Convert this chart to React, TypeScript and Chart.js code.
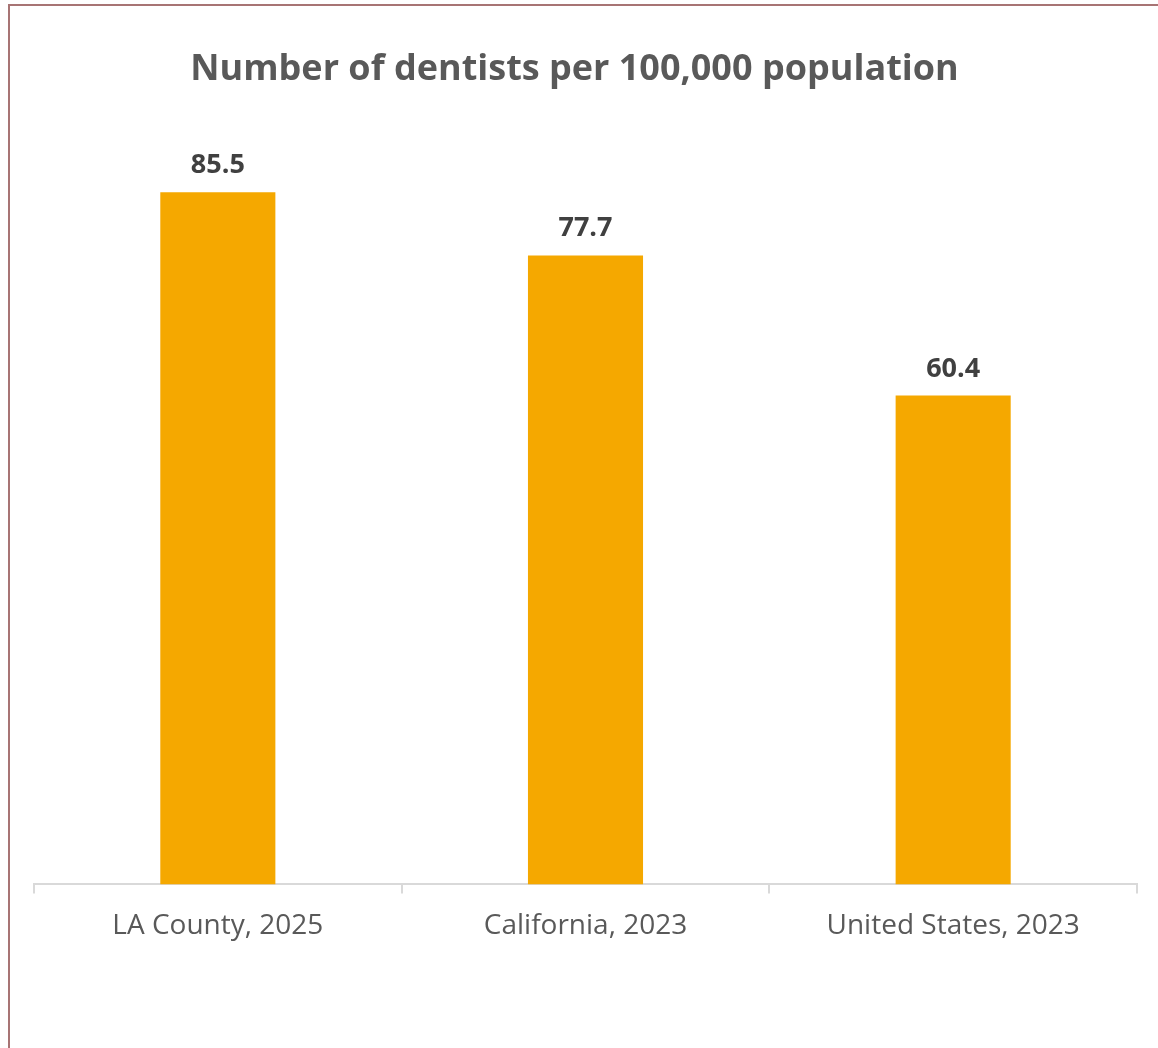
import React, { useEffect, useRef } from "react";
import { Chart, registerables } from "chart.js";

Chart.register(...registerables);

const categories = ["LA County, 2025", "California, 2023", "United States, 2023"];
const dentistsPer100k = [85.5, 77.7, 60.4];
const titleText = "Number of dentists per 100,000 population";

const FONT = "'Open Sans'";

const overlayPlugin = {
  id: "overlayText",
  afterDatasetsDraw(chart: any) {
    const ctx = chart.ctx;
    ctx.save();
    // title
    ctx.font = `bold 36px ${FONT}`;
    ctx.fillStyle = "#595959";
    ctx.textAlign = "center";
    ctx.textBaseline = "alphabetic";
    ctx.fillText(titleText, 564.5, 74);
    // data labels
    const meta = chart.getDatasetMeta(0);
    ctx.font = `bold 27px ${FONT}`;
    ctx.fillStyle = "#404040";
    meta.data.forEach((bar: any, i: number) => {
      const v = chart.data.datasets[0].data[i];
      ctx.fillText(v.toFixed(1), bar.x, bar.y - 19);
    });
    ctx.restore();
  },
};

export default function App() {
  const ref = useRef<HTMLCanvasElement>(null);
  useEffect(() => {
    if (!ref.current) return;
    const chart = new Chart(ref.current, {
      type: "bar",
      data: {
        labels: categories,
        datasets: [
          {
            data: dentistsPer100k,
            backgroundColor: "#F5A800",
            borderWidth: 0,
            categoryPercentage: 1,
            barPercentage: 0.313,
          },
        ],
      },
      options: {
        animation: false,
        responsive: false,
        maintainAspectRatio: false,
        layout: { padding: { top: 69, left: 24, right: 21, bottom: 89 } },
        plugins: {
          legend: { display: false },
          title: { display: false },
          tooltip: { enabled: false },
        },
        scales: {
          y: { display: false, min: 0, max: 100 },
          x: {
            grid: {
              drawOnChartArea: false,
              drawTicks: true,
              tickLength: 9,
              color: "#D9D9D9",
              lineWidth: 2,
              offset: true,
            },
            border: { display: true, color: "#D9D9D9", width: 2 },
            ticks: {
              color: "#595959",
              padding: 16,
              font: { family: FONT, size: 28 },
            },
          },
        },
      },
      plugins: [overlayPlugin],
    });
    return () => chart.destroy();
  }, []);
  return (
    <div
      style={{
        position: "absolute",
        left: 8,
        top: 4,
        width: 1148,
        height: 1042,
        borderTop: "2px solid #A77474",
        borderLeft: "2px solid #A77474",
        background: "#fff",
      }}
    >
      <canvas ref={ref} width={1148} height={1042} style={{ display: "block" }} />
    </div>
  );
}
